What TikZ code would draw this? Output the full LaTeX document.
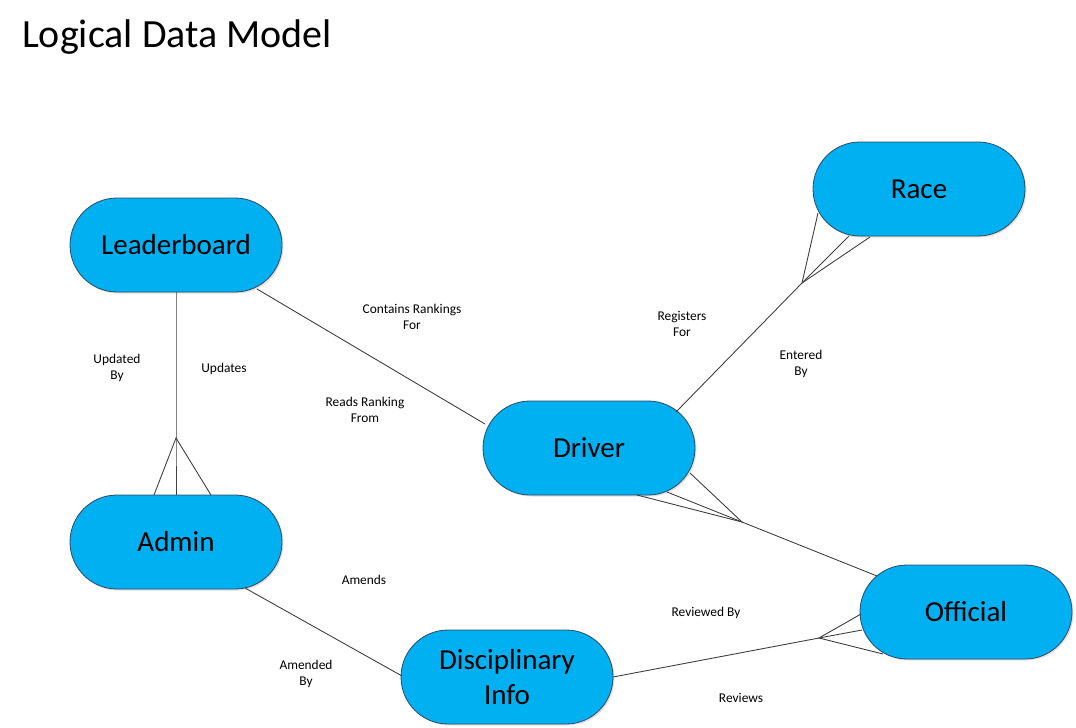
\documentclass[tikz,border=0pt]{standalone}
\usepackage{fontspec}
\setmainfont{Carlito}
\usetikzlibrary{shapes.misc,shadows}
\definecolor{entfill}{HTML}{00B0F0}
\definecolor{entdraw}{HTML}{2B4A66}
\definecolor{linec}{HTML}{404040}
\tikzset{
  entity/.style={rounded rectangle, minimum width=212pt, minimum height=94pt, inner sep=0pt,
    fill=entfill, draw=entdraw, line width=0.8pt, align=center,
    font=\fontsize{29}{35}\selectfont,
    drop shadow={shadow xshift=1.5pt, shadow yshift=-1.5pt, opacity=0.25}},
  rel/.style={draw=linec, line width=0.9pt},
  lbl/.style={align=center, font=\fontsize{13.4}{16}\selectfont, inner sep=0pt},
}
\begin{document}
\begin{tikzpicture}[x=1pt,y=-1pt]
\useasboundingbox (0,0) rectangle (1076,728);
% title
\node[anchor=west, font=\fontsize{40}{48}\selectfont, inner sep=0pt] (title) at (22,37) {Logical Data Model};
% entities
\node[entity] (lead) at (176,245) {Leaderboard};
\node[entity] (race) at (919,189) {Race};
\node[entity] (driver) at (589,448) {\raisebox{-5pt}{Driver}};
\node[entity] (admin) at (176,542) {Admin};
\node[entity] (official) at (966,612) {Official};
\node[entity] (disc) at (507,677) {Disciplinary\\Info};
% connection points
\coordinate (leadA) at (257,289);
\coordinate (driverA) at (485,424);
\coordinate (leadB) at (176,292);
\coordinate (adminJ) at (176,438);
\coordinate (adminL) at (154,495);
\coordinate (adminM) at (176,495);
\coordinate (adminR) at (211,495);
\coordinate (driverR) at (676,412);
\coordinate (raceJ) at (802,283);
\coordinate (raceL) at (818,213);
\coordinate (raceM) at (849,236);
\coordinate (raceR) at (870,237);
\coordinate (driverJ) at (742,522);
\coordinate (driverP1) at (690,473);
\coordinate (driverP2) at (667,492);
\coordinate (driverP3) at (637,495);
\coordinate (officialA) at (877,576);
\coordinate (discR) at (613,677);
\coordinate (officialJ) at (819,638);
\coordinate (officialP1) at (861,614);
\coordinate (officialP2) at (862,630);
\coordinate (officialP3) at (883,654);
\coordinate (adminB) at (245,588);
\coordinate (discL) at (402,676);
% connectors
\draw[rel] (leadA) -- (driverA);
\draw[rel] (leadB) -- (adminJ) -- (adminM);
\draw[rel] (adminL) -- (adminJ) -- (adminR);
\draw[rel] (driverR) -- (raceJ) -- (raceM);
\draw[rel] (raceL) -- (raceJ) -- (raceR);
\draw[rel] (officialA) -- (driverJ) -- (driverP2);
\draw[rel] (driverP1) -- (driverJ) -- (driverP3);
\draw[rel] (discR) -- (officialJ) -- (officialP2);
\draw[rel] (officialP1) -- (officialJ) -- (officialP3);
\draw[rel] (adminB) -- (discL);
% labels
\node[lbl] (l1) at (412,317) {Contains Rankings\\For};
\node[lbl] (l2) at (365,410) {Reads Ranking\\From};
\node[lbl] (l3) at (117,368) {Updated\\By};
\node[lbl] (l4) at (224,369) {Updates};
\node[lbl] (l5) at (682,324) {Registers\\For};
\node[lbl] (l6) at (801,364) {Entered\\By};
\node[lbl] (l7) at (364,580) {Amends};
\node[lbl] (l8) at (306,674) {Amended\\By};
\node[lbl] (l9) at (706,613) {Reviewed By};
\node[lbl] (l10) at (741,698) {Reviews};
\end{tikzpicture}
\end{document}
